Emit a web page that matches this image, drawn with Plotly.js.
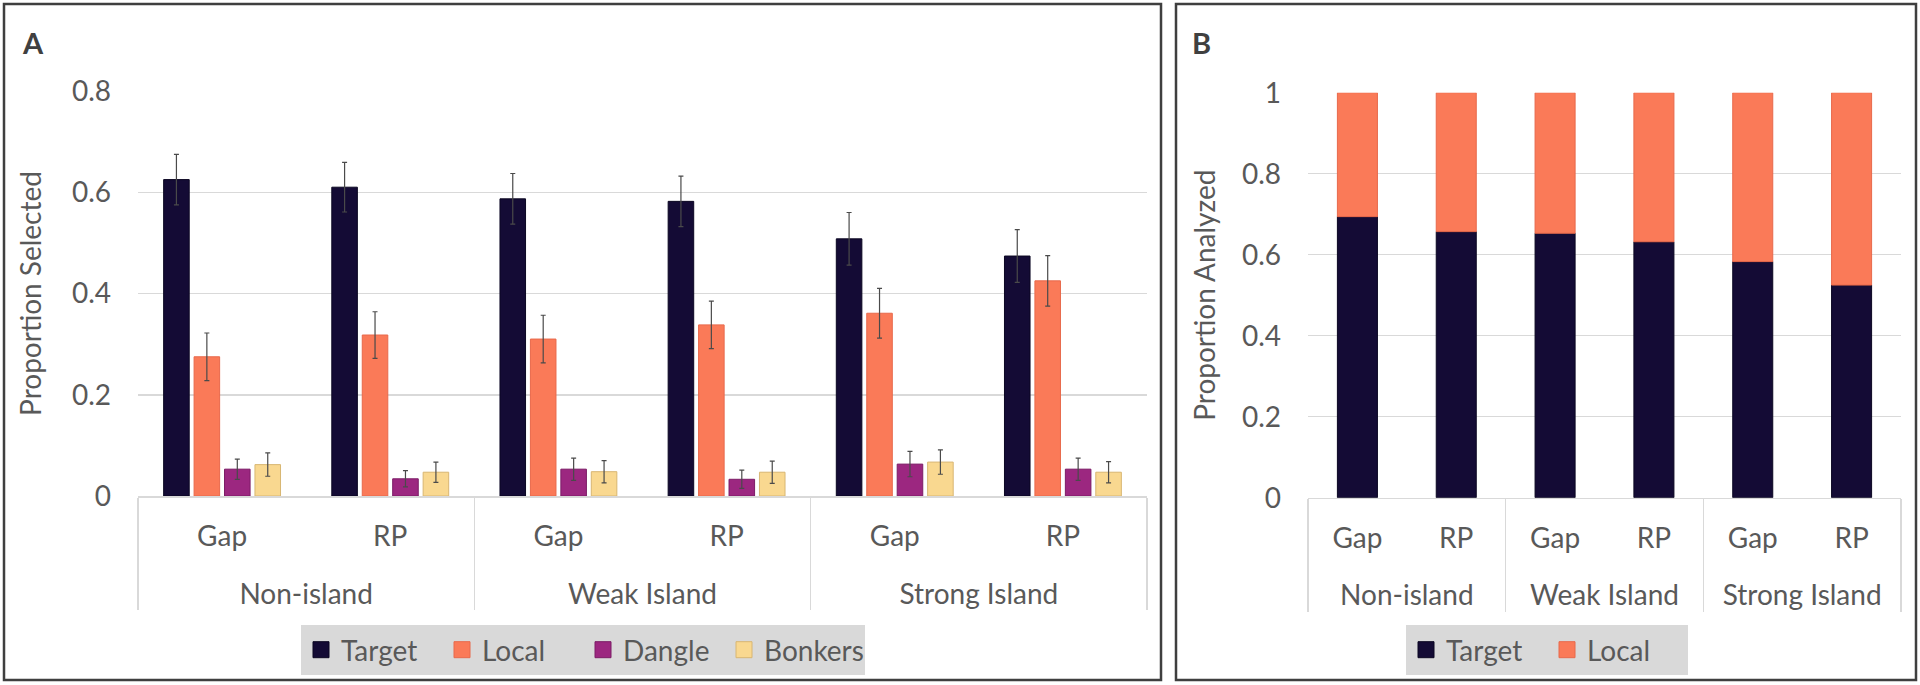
<!DOCTYPE html>
<html>
<head>
<meta charset="utf-8">
<script src="https://cdn.plot.ly/plotly-3.0.1.min.js"></script>
<style>
  html, body { margin: 0; padding: 0; background: #ffffff; }
  #chart { width: 1920px; height: 685px; }
</style>
</head>
<body>
<div id="chart"></div>
<script>
// ---- Data ----
const groups = ['Non-island', 'Non-island', 'Weak Island', 'Weak Island', 'Strong Island', 'Strong Island'];
const subs = ['Gap', 'RP', 'Gap', 'RP', 'Gap', 'RP'];

// Panel A: proportion selected (with error bars)
const seriesA = ['Target', 'Local', 'Dangle', 'Bonkers'];
const targetA = [0.625, 0.610, 0.587, 0.582, 0.508, 0.474];
const targetErr = [0.050, 0.049, 0.050, 0.050, 0.052, 0.052];
const localA = [0.275, 0.318, 0.310, 0.338, 0.361, 0.425];
const localErr = [0.047, 0.046, 0.047, 0.047, 0.049, 0.050];
const dangleA = [0.053, 0.034, 0.053, 0.033, 0.063, 0.053];
const dangleErr = [0.020, 0.016, 0.022, 0.018, 0.025, 0.022];
const bonkersA = [0.062, 0.047, 0.048, 0.047, 0.067, 0.047];
const bonkersErr = [0.023, 0.020, 0.022, 0.022, 0.024, 0.021];

// Panel B: proportion analyzed (stacked to 1)
const seriesB = ['Target', 'Local'];
const targetB = [0.694, 0.657, 0.653, 0.632, 0.583, 0.525];
const localB = [0.306, 0.343, 0.347, 0.368, 0.417, 0.475];

const yTicksA = [0, 0.2, 0.4, 0.6, 0.8];
const yTicksB = [0, 0.2, 0.4, 0.6, 0.8, 1];

// ---- Style ----
const FONT = 'Lato, "Open Sans", sans-serif';
const TXT = '#595959';
const GRID = '#d9d9d9';
const colors = {
  Target: '#140b35', Local: '#fa7a58', Dangle: '#9c2780', Bonkers: '#f9d890'
};
const lineColors = {
  Target: '#0b0722', Local: '#e8694b', Dangle: '#7c1c66', Bonkers: '#d8b672'
};

// an empty second line under each sub label gives the two label rows Excel-like spacing
const subLabels = subs.map(s => s + '<br>\u00a0');
const xCat = [groups, subLabels];
const W = 1920, H = 685;
const px = v => v / W;
const py = v => (H - v) / H;

const barW = 0.152, pitch = 0.181;
const valsA = [targetA, localA, dangleA, bonkersA];
const errsA = [targetErr, localErr, dangleErr, bonkersErr];

const traces = [];
seriesA.forEach((name, i) => {
  traces.push({
    type: 'bar', name: name, x: xCat, y: valsA[i],
    xaxis: 'x', yaxis: 'y',
    width: barW, offset: (i - 1.5) * pitch - barW / 2,
    marker: { color: colors[name], line: { color: lineColors[name], width: 1 } },
    error_y: { type: 'data', array: errsA[i], visible: true, color: '#4a4a4a', thickness: 1.2, width: 2.5 },
    showlegend: false, hoverinfo: 'y'
  });
});

const barWB = 0.405;
traces.push({
  type: 'bar', name: 'Target', x: xCat, y: targetB, xaxis: 'x2', yaxis: 'y2',
  width: barWB, offset: -barWB / 2,
  marker: { color: colors.Target, line: { color: lineColors.Target, width: 1 } },
  showlegend: false
});
traces.push({
  type: 'bar', name: 'Local', x: xCat, y: localB, base: targetB, xaxis: 'x2', yaxis: 'y2',
  width: barWB, offset: -barWB / 2,
  marker: { color: colors.Local, line: { color: lineColors.Local, width: 1 } },
  showlegend: false
});

// legend entries (markers only, on a hidden axis)
function legendTrace(name, legendId) {
  return {
    type: 'scatter', mode: 'markers', name: name, x: [null], y: [null],
    xaxis: 'x3', yaxis: 'y3', legend: legendId,
    marker: { symbol: 'square', size: 18, color: colors[name], line: { color: lineColors[name], width: 1 } },
    hoverinfo: 'skip'
  };
}
seriesA.forEach(name => traces.push(legendTrace(name, 'legend')));
seriesB.forEach(name => traces.push(legendTrace(name, 'legend2')));

const xAxisCommon = {
  type: 'multicategory', range: [-0.5, 5.5], fixedrange: true,
  showdividers: true, dividercolor: GRID, dividerwidth: 1.5,
  showline: true, linecolor: GRID, linewidth: 1.5, mirror: false,
  ticks: '', ticklabelstandoff: 15,
  showgrid: false, zeroline: false,
  tickfont: { family: FONT, size: 28, color: TXT }
};
const yAxisCommon = {
  showgrid: true, gridcolor: GRID, gridwidth: 1.5, zeroline: false, showline: false,
  ticks: '', tickmode: 'array', fixedrange: true,
  tickfont: { family: FONT, size: 28, color: TXT },
  ticklabelstandoff: 26
};

const legendCommon = {
  orientation: 'h', xanchor: 'center', y: py(625), yanchor: 'top',
  bgcolor: '#d9d9d9', borderwidth: 0, itemsizing: 'trace',
  entrywidth: 96, entrywidthmode: 'pixels',
  font: { family: FONT, size: 28, color: TXT }, itemclick: false, itemdoubleclick: false
};

const layout = {
  width: W, height: H,
  margin: { l: 0, r: 0, t: 0, b: 0 },
  paper_bgcolor: '#ffffff', plot_bgcolor: '#ffffff',
  barmode: 'overlay',
  font: { family: FONT, size: 28, color: TXT },
  xaxis: Object.assign({}, xAxisCommon, { domain: [px(138), px(1147)], anchor: 'y' }),
  yaxis: Object.assign({}, yAxisCommon, {
    domain: [py(496), py(91)], range: [0, 0.8], tickvals: yTicksA, anchor: 'x',
    title: { text: 'Proportion Selected', font: { family: FONT, size: 28, color: TXT }, standoff: 22 }
  }),
  xaxis2: Object.assign({}, xAxisCommon, { domain: [px(1308), px(1901)], anchor: 'y2' }),
  yaxis2: Object.assign({}, yAxisCommon, {
    domain: [py(497.7), py(92.7)], range: [0, 1], tickvals: yTicksB, anchor: 'x2',
    title: { text: 'Proportion Analyzed', font: { family: FONT, size: 28, color: TXT }, standoff: 18 }
  }),
  xaxis3: { domain: [0, 0.01], visible: false, anchor: 'y3' },
  yaxis3: { domain: [0, 0.01], visible: false, anchor: 'x3' },
  legend: Object.assign({}, legendCommon, { x: px(583) }),
  legend2: Object.assign({}, legendCommon, { x: px(1547) }),
  shapes: [
    { type: 'rect', xref: 'paper', yref: 'paper', x0: px(4), x1: px(1161), y0: py(680), y1: py(4),
      line: { color: '#3f3f3f', width: 2.5 }, fillcolor: 'rgba(0,0,0,0)', layer: 'above' },
    { type: 'rect', xref: 'paper', yref: 'paper', x0: px(1176), x1: px(1916), y0: py(680), y1: py(4),
      line: { color: '#3f3f3f', width: 2.5 }, fillcolor: 'rgba(0,0,0,0)', layer: 'above' }
  ],
  annotations: [
    { text: '<b>A</b>', xref: 'paper', yref: 'paper', x: px(20), y: py(43), xanchor: 'left', yanchor: 'middle',
      showarrow: false, font: { family: FONT, size: 29, color: '#404040' } },
    { text: '<b>B</b>', xref: 'paper', yref: 'paper', x: px(1190), y: py(43), xanchor: 'left', yanchor: 'middle',
      showarrow: false, font: { family: FONT, size: 29, color: '#404040' } }
  ]
};

Plotly.newPlot('chart', traces, layout, { displayModeBar: false, staticPlot: true });
</script>
</body>
</html>
